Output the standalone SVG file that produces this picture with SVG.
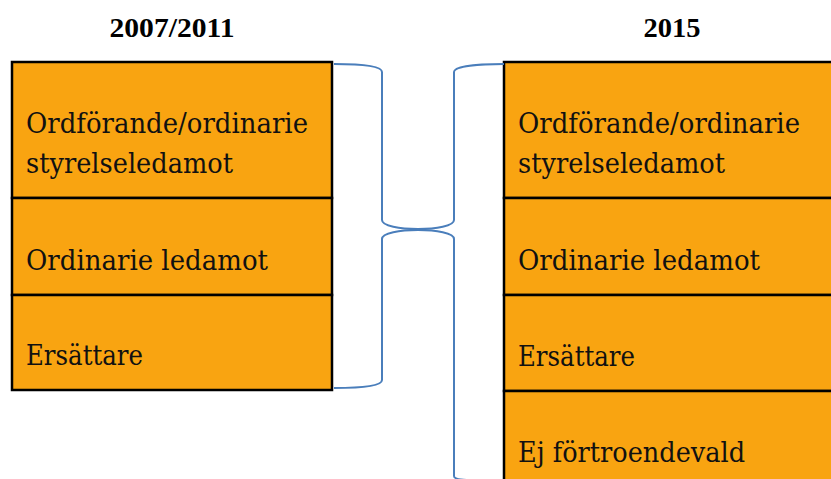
<svg xmlns="http://www.w3.org/2000/svg" width="831" height="479" viewBox="0 0 831 479">
<style>
.cell{fill:#F9A411;stroke:#000;stroke-width:2.5}
.t{font-family:"DejaVu Serif","Liberation Serif",serif;font-size:27px;fill:#111}
.h{font-family:"Liberation Serif",serif;font-size:28px;font-weight:bold;fill:#000;text-anchor:middle}
.br{fill:none;stroke:#4A7EBB;stroke-width:2}
</style>
<rect width="831" height="479" fill="#fff"/>
<text class="h" x="172" y="37" textLength="125" lengthAdjust="spacingAndGlyphs">2007/2011</text>
<text class="h" x="672" y="37" textLength="57" lengthAdjust="spacingAndGlyphs">2015</text>
<g id="left-2007-2011">
<rect class="cell" x="12" y="62" width="320" height="136"/>
<text class="t" x="26" y="133" textLength="282" lengthAdjust="spacingAndGlyphs">Ordförande/ordinarie</text>
<text class="t" x="26" y="173" textLength="207" lengthAdjust="spacingAndGlyphs">styrelseledamot</text>
<rect class="cell" x="12" y="198" width="320" height="97"/>
<text class="t" x="26" y="270" textLength="242" lengthAdjust="spacingAndGlyphs">Ordinarie ledamot</text>
<rect class="cell" x="12" y="295" width="320" height="95"/>
<text class="t" x="26" y="365" textLength="117" lengthAdjust="spacingAndGlyphs">Ersättare</text>
</g>
<g id="right-2015">
<rect class="cell" x="504" y="62" width="340" height="136"/>
<text class="t" x="518" y="133" textLength="282" lengthAdjust="spacingAndGlyphs">Ordförande/ordinarie</text>
<text class="t" x="518" y="173" textLength="207" lengthAdjust="spacingAndGlyphs">styrelseledamot</text>
<rect class="cell" x="504" y="198" width="340" height="97"/>
<text class="t" x="518" y="270" textLength="242" lengthAdjust="spacingAndGlyphs">Ordinarie ledamot</text>
<rect class="cell" x="504" y="295" width="340" height="96"/>
<text class="t" x="518" y="366" textLength="117" lengthAdjust="spacingAndGlyphs">Ersättare</text>
<rect class="cell" x="504" y="391" width="340" height="100"/>
<text class="t" x="518" y="462" textLength="227" lengthAdjust="spacingAndGlyphs">Ej förtroendevald</text>
</g>
<g id="connectors">
<path class="br" d="M334 64 C360 64 382 66 382 72 L382 220 C382 226 400 229 418 229 C436 229 454 226 454 220 L454 72 C454 66 480 64 504 64"/>
<path class="br" d="M334 388 C360 388 382 386 382 380 L382 239 C382 233 400 230 418 230 C436 230 454 233 454 239 L454 476 C454 479 460 480 470 480"/>
</g>
</svg>
